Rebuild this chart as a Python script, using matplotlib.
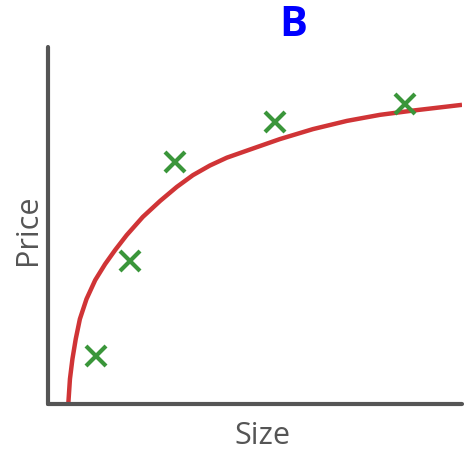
import numpy as np
import matplotlib
matplotlib.use("Agg")
import matplotlib.pyplot as plt

# data (axis units 0..10)
size_pts = [1.15, 1.98, 3.07, 5.48, 8.62]
price_pts = [1.34, 4.01, 6.78, 7.90, 8.40]

curve_x = [0.49, 0.53, 0.59, 0.67, 0.77, 0.93, 1.14, 1.38, 1.62, 1.90, 2.29, 2.71,
           3.11, 3.50, 3.91, 4.32, 4.81, 5.60, 6.40, 7.22, 8.02, 8.82, 10.0]
curve_y = [0.00, 0.70, 1.26, 1.82, 2.38, 2.94, 3.47, 3.92, 4.31, 4.73, 5.24, 5.69,
           6.08, 6.41, 6.68, 6.90, 7.10, 7.42, 7.70, 7.93, 8.10, 8.22, 8.38]

fig = plt.figure(figsize=(4.69, 4.52), dpi=100)
ax = fig.add_axes([48/469, 47/452, 414/469, 357/452])

ax.plot(curve_x, curve_y, color='#d03436', lw=3.2, solid_joinstyle='round',
        solid_capstyle='butt', zorder=2)
ax.plot(size_pts, price_pts, 'x', color='#3a963a', ms=14, mew=3, zorder=3)

ax.set_xlim(0, 10)
ax.set_ylim(0, 10)
ax.set_xticks([])
ax.set_yticks([])
for s in ['top', 'right']:
    ax.spines[s].set_visible(False)
for s in ['left', 'bottom']:
    ax.spines[s].set_color('#555555')
    ax.spines[s].set_linewidth(3)
    ax.spines[s].set_capstyle('round')

fig.text(293/469, 1 - 26/452, 'B', color='#0000ff', fontsize=30,
         fontweight='bold', family='Open Sans', ha='center', va='center')
fig.text(28/469, 1 - 230/452, 'Price', color='#555555', fontsize=22,
         family='Open Sans', rotation=90, ha='center', va='center')
fig.text(262/469, 1 - 436/452, 'Size', color='#555555', fontsize=22,
         family='Open Sans', ha='center', va='center')

fig.savefig('out.png', dpi=100)
